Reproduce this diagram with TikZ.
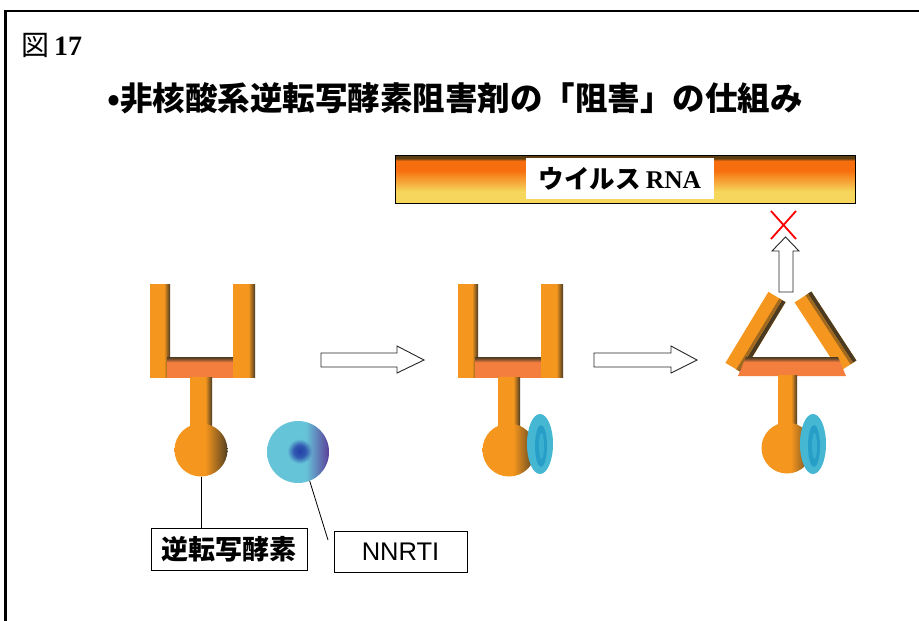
\documentclass[tikz,border=0pt]{standalone}
\usepackage{fontspec}
\setmainfont{Liberation Serif}
\newfontfamily\jpgothic{Noto Sans CJK JP}
\newfontfamily\arialfont{Liberation Sans}
\usetikzlibrary{fadings}

\definecolor{enzOrange}{HTML}{F5961E}
\definecolor{enzDark}{HTML}{4A3B22}
\definecolor{enzCoral}{HTML}{F37E3E}
\definecolor{rnaYellow}{HTML}{F6D65C}
\definecolor{rnaOrange}{HTML}{F76E0E}
\definecolor{rnaDark}{HTML}{5C3E12}
\definecolor{drugCyan}{HTML}{66C4D8}
\definecolor{drugBlue}{HTML}{2440A8}
\definecolor{drugPurple}{HTML}{5A2A90}
\definecolor{discCyan}{HTML}{45B7D3}
\definecolor{discCore}{HTML}{1E98C4}

% shadings: the path covers the band 25bp..75bp
\pgfdeclarehorizontalshading{barshade}{100bp}{color(0bp)=(enzOrange); color(25bp)=(enzOrange); color(60bp)=(enzOrange); color(75bp)=(enzDark); color(100bp)=(enzDark)}
\pgfdeclarehorizontalshading{ballshade}{100bp}{color(0bp)=(enzOrange); color(25bp)=(enzOrange); color(54bp)=(enzOrange); color(72bp)=(enzDark!80!enzOrange); color(75bp)=(enzDark); color(100bp)=(enzDark)}
\pgfdeclareverticalshading{crossshade}{100bp}{color(0bp)=(enzCoral); color(25bp)=(enzCoral); color(62bp)=(enzCoral); color(70bp)=(enzDark!70!enzCoral); color(75bp)=(enzDark); color(100bp)=(enzDark)}
\pgfdeclareverticalshading{rnashade}{100bp}{color(0bp)=(rnaYellow); color(25bp)=(rnaYellow); color(37bp)=(rnaYellow); color(59bp)=(rnaOrange); color(69bp)=(rnaOrange); color(71.5bp)=(rnaDark); color(100bp)=(rnaDark)}
\pgfdeclareradialshading{drugshade}{\pgfpoint{1.6bp}{0.8bp}}{color(0bp)=(drugBlue); color(5bp)=(drugBlue!80!drugCyan); color(10bp)=(drugCyan); color(25bp)=(drugCyan); color(50bp)=(drugCyan)}
\tikzfading[name=fadeinright, left color=transparent!100, right color=transparent!0]

\tikzset{
  blockarrow/.style={draw=black!85, line width=0.9pt, fill=white, line join=miter},
  labelbox/.style={draw=black, line width=0.9pt, fill=white, inner sep=0pt},
  pointer/.style={draw=black, line width=0.8pt},
  enzymeU/.pic={
    \shade[shading=barshade] (0,0) rectangle (20,93);
    \shade[shading=crossshade] (17,73) rectangle (83,93);
    \shade[shading=barshade] (83,0) rectangle (105,93);
    \shade[shading=barshade] (40,93) rectangle (62,150);
    \node[circle, inner sep=0pt, minimum size=53pt, shade, shading=ballshade] (-ball) at (51,166) {};
  },
  disc/.pic={
    \fill[discCyan] (0,0) ellipse [x radius=13, y radius=30];
    \fill[discCore!80!discCyan] (1,2) ellipse [x radius=6, y radius=21];
    \fill[discCyan!75!discCore] (1.5,2) ellipse [x radius=2.5, y radius=13];
  }
}

\begin{document}
\begin{tikzpicture}[x=1pt, y=-1pt]
\useasboundingbox (0,0) rectangle (919,621);
\fill[white] (0,0) rectangle (919,621);

% outer frame (continues past the page edge)
\draw[line width=2.2pt] (5.5,621) -- (5.5,11) -- (919,11);

% headings
\node[anchor=west, inner sep=0pt] (fig) at (21,45)
  {\fontsize{28}{28}\selectfont{\jpgothic 図}\hspace{5pt}\textbf{17}};
\node[anchor=west, inner sep=0pt] (title) at (107,98)
  {\fontsize{32.5}{32.5}\selectfont\jpgothic\bfseries •非核酸系逆転写酵素阻害剤の「阻害」の仕組み};

% viral RNA strand
\shade[shading=rnashade] (395,155) rectangle (855,203);
\draw[line width=0.9pt] (395,155) rectangle (855,203);
\node[fill=white, minimum width=188pt, minimum height=41pt, inner sep=0pt] (rna) at (620,178.5)
  {\fontsize{25.5}{25.5}\selectfont{\jpgothic\bfseries ウイルス}\hspace{5pt}\textbf{RNA}};

% free reverse transcriptase and free NNRTI
\pic (e1) at (150,284) {enzymeU};
\node[circle, inner sep=0pt, minimum size=62pt, shade, shading=drugshade] (drug) at (298,452) {};
\begin{scope}
  \clip (298,452) circle [radius=31];
  \fill[drugPurple, path fading=fadeinright, opacity=0.9] (306,419) rectangle (330,485);
\end{scope}

% labels
\node[labelbox, minimum width=156pt, minimum height=42pt] (rtlabel) at (229,549)
  {\fontsize{27}{27}\selectfont\jpgothic\bfseries 逆転写酵素};
\node[labelbox, minimum width=133pt, minimum height=41pt] (nnlabel) at (400.5,551.5)
  {\fontsize{25.5}{25.5}\selectfont\arialfont NNRTI};
\coordinate (nnend) at (328,540);
\draw[pointer] (e1-ball.south) -- (e1-ball.south |- rtlabel.north);
\draw[pointer] (drug.-68) -- (nnend);

% step arrows
\draw[blockarrow] (321,353) -- (397,353) -- (397,346) -- (424,360) -- (397,373) -- (397,367) -- (321,367) -- cycle;
\draw[blockarrow] (594,353) -- (671,353) -- (671,346) -- (697,360) -- (671,373) -- (671,367) -- (594,367) -- cycle;

% enzyme with NNRTI bound
\pic (e2) at (458,284) {enzymeU};
\pic at (540,444) {disc};

% distorted enzyme
\draw[line width=20pt, enzOrange] (734,368) -- (777,297);
\draw[line width=4pt, enzDark] (740.8,372.1) -- (783.8,301.1);
\draw[line width=3pt, enzDark!50!enzOrange] (737.6,370.2) -- (780.6,299.2);
\draw[line width=20pt, enzOrange] (803,297) -- (848,366);
\draw[line width=4pt, enzDark] (809.7,292.6) -- (854.7,361.6);
\draw[line width=3pt, enzDark!50!enzOrange] (806.8,294.5) -- (851.8,363.5);
\shade[shading=crossshade] (746,357) -- (838,357) -- (846,376) -- (738,376) -- cycle;
\shade[shading=barshade] (778,375) rectangle (797,430);
\node[circle, inner sep=0pt, minimum size=51pt, shade, shading=ballshade] (e3ball) at (787,448) {};
\pic at (813,444) {disc};

% blocked synthesis
\draw[blockarrow] (779,292) -- (779,251) -- (772,251) -- (785.5,237) -- (799,251) -- (793,251) -- (793,292) -- cycle;
\draw[red, line width=1.8pt] (771,211) -- (796,239);
\draw[red, line width=1.8pt] (796,211) -- (771,239);
\end{tikzpicture}
\end{document}
